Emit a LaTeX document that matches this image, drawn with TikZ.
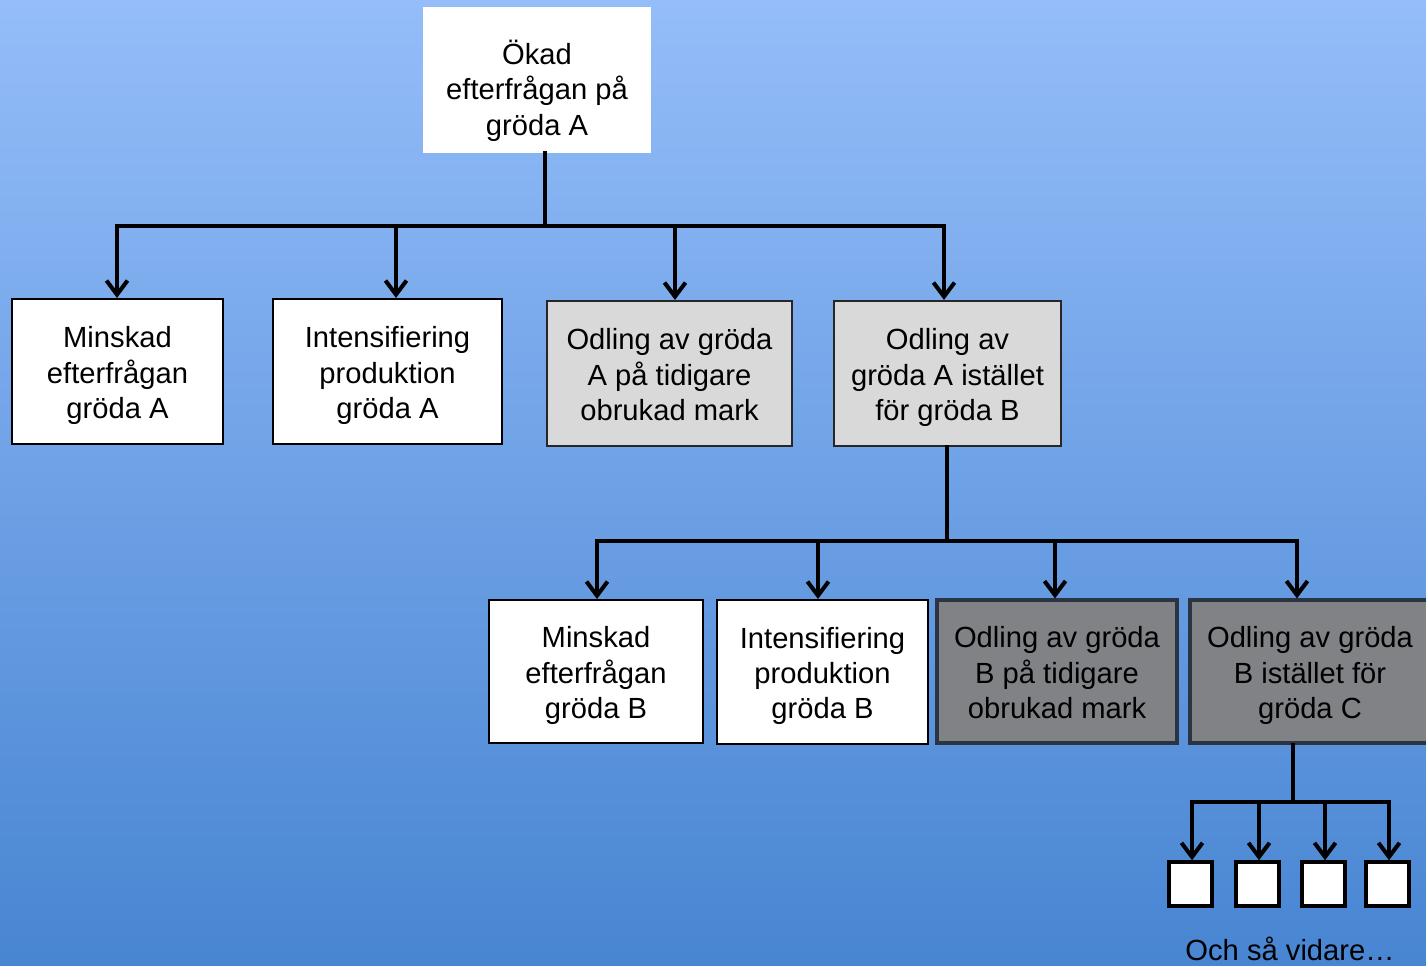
\documentclass[tikz,border=0pt]{standalone}
\usepackage{fontspec}
\setmainfont{Liberation Sans}
\usetikzlibrary{arrows.meta}

\definecolor{bgtop}{RGB}{148,189,249}
\definecolor{bgbot}{RGB}{72,133,210}
\definecolor{lgray}{RGB}{217,217,217}
\definecolor{dgray}{RGB}{128,130,134}
\definecolor{dedge}{RGB}{42,52,66}

% fixed height of first line and depth of last line in the boxes
\newcommand{\linetop}{\rule{0pt}{19.1pt}}
\newcommand{\linebot}{\rule[-6pt]{0pt}{6pt}}

\tikzset{
  txt/.style={align=center, inner sep=0pt, font=\fontsize{16.6}{20}\selectfont},
  wbox/.style={txt, draw=black, line width=1.2pt, fill=white, minimum height=2.9cm},
  lbox/.style={txt, draw=black!85, line width=1.2pt, fill=lgray, minimum height=2.9cm},
  dbox/.style={txt, draw=dedge, line width=1.8pt, fill=dgray, minimum height=2.86cm},
  tinybox/.style={draw=black, line width=2pt, fill=white, minimum width=0.86cm, minimum height=0.88cm, inner sep=0pt},
  conn/.style={line width=2.3pt, line cap=rect},
  arr/.style={conn, -{Straight Barb[length=8pt, width=12pt, line width=2.3pt]}}
}

\begin{document}
\begin{tikzpicture}[x=0.02cm, y=-0.02cm]
\clip (0,0) rectangle (1426,965);
\shade[top color=bgtop, bottom color=bgbot] (0,0) rectangle (1426,965);

% first level
\node[txt, fill=white, minimum width=4.56cm, minimum height=2.92cm] (top) at (537,80)
  {\rule{0pt}{28.6pt}Ökad\\efterfrågan på\\gröda A\linebot};

\node[wbox, minimum width=4.22cm] (b1) at (117.5,371.5) {\linetop Minskad\\efterfrågan\\gröda A\linebot};
\node[wbox, minimum width=4.58cm] (b2) at (387.5,371.5) {\linetop Intensifiering\\produktion\\gröda A\linebot};
\node[lbox, minimum width=4.9cm] (b3) at (669.5,373.5) {\linetop Odling av gröda\\A på tidigare\\obrukad mark\linebot};
\node[lbox, minimum width=4.54cm] (b4) at (947.5,373.5) {\linetop Odling av\\gröda A istället\\för gröda B\linebot};

\coordinate (j1) at (545,226);
\coordinate (h1) at (117,226);
\coordinate (h2) at (396,226);
\coordinate (h3) at (675,226);
\coordinate (h4) at (944,226);
\draw[conn] (j1 |- top.south) -- (j1);
\draw[conn] (h1) -- (h4);
\foreach \i in {1,...,4}
  \draw[arr] (h\i) -- (h\i |- b\i.north);

% second level
\node[wbox, minimum width=4.28cm, minimum height=2.86cm] (c1) at (596,671.5) {\linetop Minskad\\efterfrågan\\gröda B\linebot};
\node[wbox, minimum width=4.22cm, minimum height=2.88cm] (c2) at (822.5,672) {\linetop Intensifiering\\produktion\\gröda B\linebot};
\node[dbox, minimum width=4.8cm] (c3) at (1057,671.5) {\linetop Odling av gröda\\B på tidigare\\obrukad mark\linebot};
\node[dbox, minimum width=4.8cm] (c4) at (1310,671.5) {\linetop Odling av gröda\\B istället för\\gröda C\linebot};

\coordinate (j2) at (947,541);
\coordinate (k1) at (597,541);
\coordinate (k2) at (818,541);
\coordinate (k3) at (1055,541);
\coordinate (k4) at (1297,541);
\draw[conn] (j2 |- b4.south) -- (j2);
\draw[conn] (k1) -- (k4);
\foreach \i in {1,...,4}
  \draw[arr] (k\i) -- (k\i |- c\i.north);

% third level
\node[tinybox] (d1) at (1190.5,884) {};
\node[tinybox] (d2) at (1257.5,884) {};
\node[tinybox] (d3) at (1323.5,884) {};
\node[tinybox] (d4) at (1387.5,884) {};

\coordinate (j3) at (1293,802);
\coordinate (m1) at (1192,802);
\coordinate (m2) at (1259,802);
\coordinate (m3) at (1325,802);
\coordinate (m4) at (1389,802);
\draw[conn] (j3 |- c4.south) -- (j3);
\draw[conn] (m1) -- (m4);
\foreach \i in {1,...,4}
  \draw[arr] (m\i) -- (m\i |- d\i.north);

\node[txt] (etc) at (1290,949) {Och så vidare…};
\end{tikzpicture}
\end{document}
